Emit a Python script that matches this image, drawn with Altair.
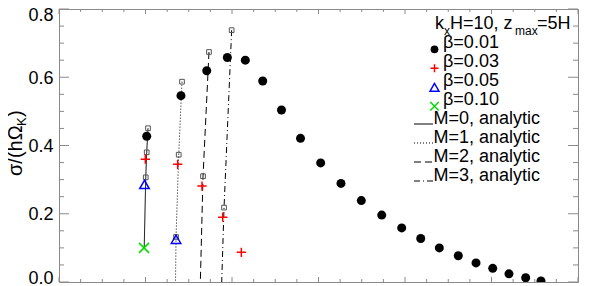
import altair as alt
import pandas as pd

# ---------------- data ----------------
# simulation growth rates, beta = 0.01 / 0.03 / 0.05 / 0.10
b001_x = [1.014, 1.410, 1.708, 1.946, 2.154, 2.355, 2.572, 2.792, 3.025, 3.260, 3.495,
          3.731, 3.962, 4.182, 4.397, 4.616, 4.821, 5.014, 5.202, 5.395, 5.572]
b001_y = [0.427, 0.546, 0.619, 0.658, 0.650, 0.589, 0.504, 0.421, 0.349, 0.289, 0.2385,
          0.196, 0.1585, 0.1276, 0.100, 0.077, 0.056, 0.040, 0.024, 0.0126, 0.003]
b003_x = [0.998, 1.372, 1.653, 1.893, 2.108]
b003_y = [0.360, 0.345, 0.281, 0.190, 0.087]
b005_x = [0.988, 1.353]
b005_y = [0.286, 0.125]
b010_x = [0.983]
b010_y = [0.100]

# analytic points (open squares)
sq_x = [1.029, 1.014, 1.003, 1.422, 1.384, 1.353, 1.734, 1.665, 1.996, 1.908]
sq_y = [0.4505, 0.380, 0.3066, 0.587, 0.373, 0.132, 0.674, 0.310, 0.738, 0.218]

# analytic curves
m0_x = [1.029, 1.014, 1.003, 0.985]
m0_y = [0.4505, 0.380, 0.3066, 0.100]
m1_x = [1.422, 1.384, 1.353, 1.347]
m1_y = [0.587, 0.373, 0.132, 0.0]
m2_x = [1.734, 1.665, 1.634]
m2_y = [0.674, 0.310, 0.0]
m3_x = [1.996, 1.908, 1.881]
m3_y = [0.738, 0.218, 0.0]

m_names = ["M=0", "M=1", "M=2", "M=3"]
beta_labels = ["β=0.01", "β=0.03", "β=0.05", "β=0.10"]
m_labels = ["M=0, analytic", "M=1, analytic", "M=2, analytic", "M=3, analytic"]

y_major = [0.0, 0.2, 0.4, 0.6, 0.8]
y_minor = [0.05, 0.1, 0.15, 0.25, 0.3, 0.35, 0.45, 0.5, 0.55, 0.65, 0.7, 0.75]
x_major = [0, 1, 2, 3, 4, 5, 6]
x_minor = [m + f for m in range(6) for f in (0.25, 0.5, 0.75)]

# ---------------- layout / style ----------------
W, H = 519, 273
XMAX, YMAX = 6.0, 0.8
FONT = "Liberation Sans"
TICK = "#8a8a8a"
GREEN = "#00dd00"


def px_x(px):
    return px / W * XMAX


def px_y(py):
    return (H - py) / H * YMAX


xscale = alt.Scale(domain=[0, XMAX], nice=False, zero=False)
yscale = alt.Scale(domain=[0, YMAX], nice=False, zero=False)
yaxis = alt.Axis(values=y_major, format=".1f", labelFontSize=18, labelFont=FONT,
                 labelColor="black", ticks=False, tickSize=0, domain=False, grid=False,
                 labelPadding=6, title=None, labelBaseline="alphabetic",
                 labelOffset={"condition": [{"test": "datum.value >= 0.79", "value": 11},
                                            {"test": "datum.value <= 0.01", "value": 1}],
                              "value": 6})


def X(f):
    return alt.X(f, type="quantitative", scale=xscale, axis=None)


def Y(f):
    return alt.Y(f, type="quantitative", scale=yscale, axis=yaxis)


def df_xy(xs, ys):
    return pd.DataFrame({"x": xs, "y": ys})


PLUS = "M-1,0L1,0M0,-1L0,1"
XSH = "M-1,-1L1,1M-1,1L1,-1"

dash_scale = alt.Scale(domain=m_names, range=[[1, 0], [1, 2], [7, 4], [6, 3, 1, 3]])

layers = []

# ticks (inward, IDL style)
ymaj = pd.DataFrame({"v": y_major})
ymin = pd.DataFrame({"v": y_minor})
xmaj = pd.DataFrame({"v": x_major})
xmin = pd.DataFrame({"v": x_minor})
rule = dict(color=TICK, strokeWidth=1)
layers += [
    alt.Chart(ymaj).mark_rule(**rule).encode(y=Y("v"), x=alt.value(0), x2=alt.value(10)),
    alt.Chart(ymin).mark_rule(**rule).encode(y=Y("v"), x=alt.value(0), x2=alt.value(5)),
    alt.Chart(ymaj).mark_rule(**rule).encode(y=Y("v"), x=alt.value(W - 10), x2=alt.value(W)),
    alt.Chart(ymin).mark_rule(**rule).encode(y=Y("v"), x=alt.value(W - 5), x2=alt.value(W)),
    alt.Chart(xmaj).mark_rule(**rule).encode(x=X("v"), y=alt.value(0), y2=alt.value(5)),
    alt.Chart(xmin).mark_rule(**rule).encode(x=X("v"), y=alt.value(0), y2=alt.value(3)),
    alt.Chart(xmaj).mark_rule(**rule).encode(x=X("v"), y=alt.value(H - 5), y2=alt.value(H)),
    alt.Chart(xmin).mark_rule(**rule).encode(x=X("v"), y=alt.value(H - 3), y2=alt.value(H)),
]

# analytic curves
rows = []
for name, xs, ys in zip(m_names, [m0_x, m1_x, m2_x, m3_x], [m0_y, m1_y, m2_y, m3_y]):
    for i, (a, b) in enumerate(zip(xs, ys)):
        rows.append({"M": name, "x": a, "y": b, "o": i})
curves = pd.DataFrame(rows)
layers.append(
    alt.Chart(curves).mark_line(color="black", strokeWidth=1, clip=True).encode(
        x=X("x"), y=Y("y"), detail="M:N", order="o:Q",
        strokeDash=alt.StrokeDash("M:N", scale=dash_scale, legend=None))
)

# analytic squares
layers.append(
    alt.Chart(df_xy(sq_x, sq_y)).mark_point(shape="square", filled=False, size=22,
                                             color="#555555", strokeWidth=1, opacity=1).encode(
        x=X("x"), y=Y("y"))
)

# simulation points
layers += [
    alt.Chart(df_xy(b001_x, b001_y)).mark_point(shape="circle", filled=True, size=81,
                                                 color="black", opacity=1, clip=True).encode(
        x=X("x"), y=Y("y")),
    alt.Chart(df_xy(b003_x, b003_y)).mark_point(shape=PLUS, filled=False, size=86,
                                                 color="#ff0000", strokeWidth=1.5, opacity=1).encode(
        x=X("x"), y=Y("y")),
    alt.Chart(df_xy(b005_x, b005_y)).mark_point(shape="triangle-up", filled=False, size=90,
                                                 color="#0000ff", strokeWidth=1.5, opacity=1).encode(
        x=X("x"), y=Y("y")),
    alt.Chart(df_xy(b010_x, b010_y)).mark_point(shape=XSH, filled=False, size=100,
                                                 color=GREEN, strokeWidth=1.5, opacity=1).encode(
        x=X("x"), y=Y("y")),
]

# ---------------- legend ----------------
base_y = 20
step = 19
sym_x = px_x(375.5)
sym_rows = [px_y(base_y + step * (i + 1) + 1.3) for i in range(4)]
leg_sym = [
    ("circle", True, 60, "black"),
    (PLUS, False, 64, "#ff0000"),
    ("triangle-up", False, 80, "#0000ff"),
    (XSH, False, 72, GREEN),
]
for (shape, filled, size, col), yy in zip(leg_sym, sym_rows):
    layers.append(
        alt.Chart(df_xy([sym_x], [yy])).mark_point(shape=shape, filled=filled, size=size,
                                                    color=col, strokeWidth=1.5, opacity=1).encode(
            x=X("x"), y=Y("y"))
    )

leg_text = pd.DataFrame({
    "x": [px_x(384)] * 4 + [px_x(374.5)] * 4,
    "y": [px_y(base_y + step * (i + 1)) for i in range(8)],
    "t": beta_labels + m_labels,
})
layers.append(
    alt.Chart(leg_text).mark_text(align="left", baseline="alphabetic", fontSize=18,
                                  font=FONT, color="black").encode(
        x=X("x"), y=Y("y"), text="t:N")
)

leg_lines = pd.DataFrame({
    "M": m_names,
    "x": [px_x(355)] * 4,
    "x2": [px_x(374)] * 4,
    "y": [px_y(base_y + step * (i + 5)) for i in range(4)],
})
layers.append(
    alt.Chart(leg_lines).mark_rule(color="black", strokeWidth=1).encode(
        x=X("x"), x2="x2:Q", y=Y("y"),
        strokeDash=alt.StrokeDash("M:N", scale=dash_scale, legend=None))
)

# legend title with subscripts: k_xH=10, z_max=5H
title_main = pd.DataFrame({
    "x": [px_x(376), px_x(391), px_x(478)],
    "y": [px_y(20.3)] * 3,
    "t": ["k", "H=10, z", "=5H"],
})
title_sub = pd.DataFrame({
    "x": [px_x(385), px_x(456)],
    "y": [px_y(26)] * 2,
    "t": ["x", "max"],
})
layers.append(alt.Chart(title_main).mark_text(align="left", baseline="alphabetic", fontSize=18,
                                              font=FONT, color="black").encode(
    x=X("x"), y=Y("y"), text="t:N"))
layers.append(alt.Chart(title_sub).mark_text(align="left", baseline="alphabetic", fontSize=12,
                                             font=FONT, color="black").encode(
    x=X("x"), y=Y("y"), text="t:N"))

# y-axis title  σ/(hΩ_K)  (rotated)
yt_main = pd.DataFrame({"x": [px_x(-37.5), px_x(-37.5)], "y": [px_y(167), px_y(108)],
                        "t": ["σ/(hΩ", ")"]})
yt_sub = pd.DataFrame({"x": [px_x(-33.5)], "y": [px_y(117)], "t": ["K"]})
layers.append(alt.Chart(yt_main).mark_text(align="left", baseline="alphabetic", fontSize=20, angle=270,
                                           font=FONT, color="black").encode(
    x=X("x"), y=Y("y"), text="t:N"))
layers.append(alt.Chart(yt_sub).mark_text(align="left", baseline="alphabetic", fontSize=13, angle=270,
                                          font=FONT, color="black").encode(
    x=X("x"), y=Y("y"), text="t:N"))

chart = alt.layer(*layers).properties(
    width=W, height=H,
    padding={"left": 51, "top": 1, "right": 12, "bottom": 4},
    autosize=alt.AutoSizeParams(type="none"),
    background="white",
).configure_view(stroke=TICK, strokeWidth=1)

chart.save("out.html", embed_options={"renderer": "svg", "actions": False})
